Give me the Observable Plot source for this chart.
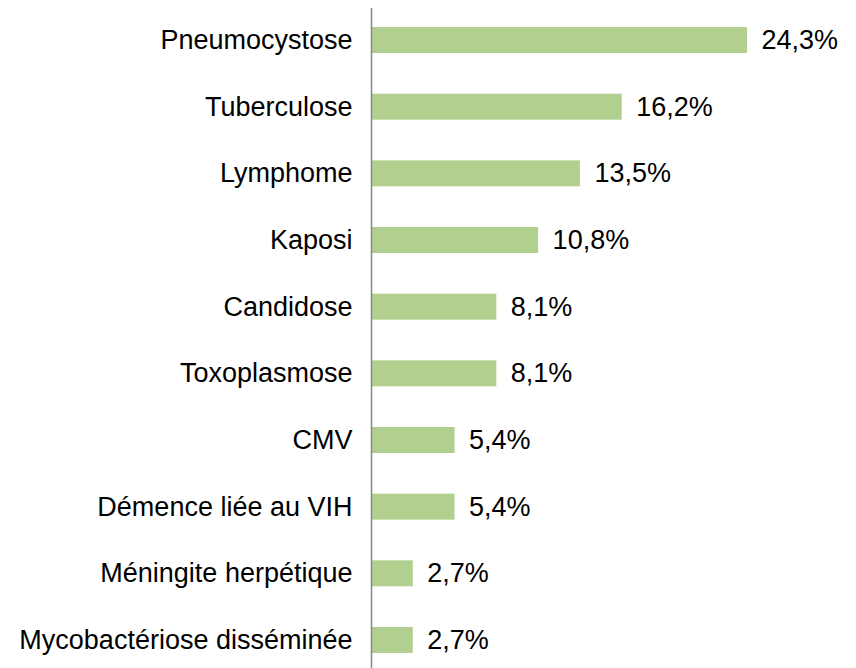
<!DOCTYPE html>
<html>
<head>
<meta charset="utf-8">
<script src="https://cdn.jsdelivr.net/npm/d3@7"></script>
<script src="https://cdn.jsdelivr.net/npm/@observablehq/plot@0.6"></script>
<style>
  html, body { margin: 0; padding: 0; background: #fff; }
  #chart svg { display: block; }
</style>
</head>
<body>
<div id="chart"></div>
<script>
const categories = [
  "Pneumocystose",
  "Tuberculose",
  "Lymphome",
  "Kaposi",
  "Candidose",
  "Toxoplasmose",
  "CMV",
  "Démence liée au VIH",
  "Méningite herpétique",
  "Mycobactériose disséminée"
];
const values = [24.3, 16.2, 13.5, 10.8, 8.1, 8.1, 5.4, 5.4, 2.7, 2.7];

const data = categories.map((c, i) => ({category: c, value: values[i]}));
const fmt = v => v.toFixed(1).replace(".", ",") + "%";

const chart = Plot.plot({
  width: 856,
  height: 668,
  marginLeft: 371,
  marginRight: 109,
  marginTop: 8,
  marginBottom: 0,
  style: {fontFamily: "'Liberation Sans', Arial, sans-serif", fontSize: "27px", color: "#000", background: "#fff"},
  x: {domain: [0, 24.3], axis: null},
  y: {domain: categories, range: [6.7, 673.3], paddingInner: 0.61, paddingOuter: 0.305, round: false, label: null},
  marks: [
    Plot.barX(data, {x: "value", y: "category", fill: "#b1cf8e"}),
    Plot.ruleX([0], {stroke: "#868686", strokeWidth: 1.5}),
    Plot.axisY({tickSize: 0, tickPadding: 19, fontSize: 27, label: null, fill: "#000"}),
    Plot.text(data, {x: "value", y: "category", text: d => fmt(d.value), textAnchor: "start", dx: 14, fontSize: 27, fill: "#000"})
  ]
});
document.getElementById("chart").appendChild(chart);
</script>
</body>
</html>
